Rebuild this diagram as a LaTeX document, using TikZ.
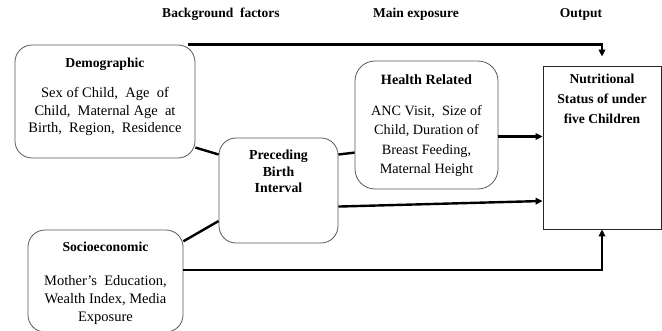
\documentclass[tikz,border=0pt]{standalone}
\usepackage{fontspec}
\setmainfont{Liberation Serif}
\usetikzlibrary{arrows.meta,positioning}
\tikzset{
  factor/.style={draw=boxcol,line width=0.8pt,rounded corners=17pt,inner sep=0pt},
  outcome/.style={draw=black!85,line width=0.8pt,inner sep=0pt},
  boxtext/.style={inner sep=0pt,align=center},
  header/.style={inner sep=0pt,anchor=base,font=\bfseries\fontsize{13.5}{16}\selectfont}
}
\newcommand\titlefont{\bfseries\fontsize{13.7}{16}\selectfont}

\begin{document}
\begin{tikzpicture}[x=1pt,y=1pt]
    % Local styling definitions
    \tikzset{>={Triangle[length=7pt,width=6.5pt]}} % set arrow head style

    % Color definitions
    \colorlet{boxcol}{black!65}
    \colorlet{linkcol}{black}

    % TikZ style definitions
    \tikzstyle{link}  =[line width=2.4pt,linkcol]
    \tikzstyle{arrow} =[->,link]

    \useasboundingbox (0,0) rectangle (662,-331);

    % Column headings
    \node[header] (hback) at (221,-17.5) {Background\ \ factors};
    \node[header] (hmain) at (416,-17.5) {Main exposure};
    \node[header] (hout)  at (581,-17.5) {Output};

    % Boxes
    \node[factor,minimum width=180pt,minimum height=113pt] (demo) at (105,-101.5) {};
    \node[factor,minimum width=155pt,minimum height=102pt] (socio) at (105.5,-281) {};
    \node[factor,minimum width=119pt,minimum height=105pt] (prec) at (278.5,-190.5) {};
    \node[factor,rounded corners=20pt,minimum width=143pt,minimum height=128pt] (health) at (426.5,-125) {};
    \node[outcome,minimum width=118pt,minimum height=163pt] (nutri) at (602,-147.5) {};

    % Box texts
    \node[boxtext,below=13.5pt of demo.north,font=\fontsize{14.5}{17.5}\selectfont] (demotxt)
      {{\titlefont Demographic}\\[12.5pt]Sex of Child,\ \ Age\ \ of\\Child,\ \ Maternal Age\ \ at\\Birth,\ \ Region,\ \ Residence};
    \node[boxtext,below=12.5pt of socio.north,font=\fontsize{14.5}{18}\selectfont] (sociotxt)
      {{\titlefont Socioeconomic}\\[16pt]Mother’s\ \ Education,\\Wealth Index, Media\\Exposure};
    \node[boxtext,below=12.5pt of prec.north,font=\bfseries\fontsize{13.8}{16.5}\selectfont] (prectxt)
      {Preceding\\Birth\\Interval};
    \node[boxtext,below=13.5pt of health.north,font=\fontsize{14.2}{19.5}\selectfont] (healthtxt)
      {{\titlefont\fontsize{14.2}{16}\selectfont Health Related}\\[11.5pt]ANC Visit,\ \ Size of\\Child, Duration of\\Breast Feeding,\\Maternal Height};
    \node[boxtext,below=8.5pt of nutri.north,font=\bfseries\fontsize{13.6}{20}\selectfont] (nutritxt)
      {Nutritional\\Status of under\\five Children};

    % Connectors
    \draw[arrow] ([xshift=-7pt]demo.north east) -| ([yshift=9pt]nutri.north);
    \draw[link] (demo.-27) -- (prec.149);
    \draw[link] (socio.27) -- (prec.207);
    \draw[link] (prec.31) -- (health.201);
    \draw[arrow] ([yshift=-11.5pt]health.east) -- ([yshift=-11.5pt]health.east -| nutri.west);
    \draw[arrow] (prec.-15) -- (nutri.222);
    \draw[arrow] (socio.8) -| (nutri.south);

\end{tikzpicture}
\end{document}
